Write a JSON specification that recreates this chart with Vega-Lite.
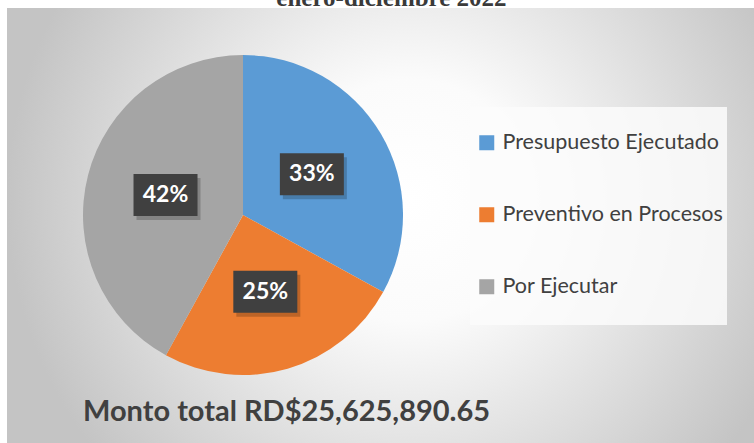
{
  "$schema": "https://vega.github.io/schema/vega-lite/v6.json",
  "width": 747,
  "height": 435,
  "autosize": "none",
  "padding": {"left": 7, "top": 8, "right": 0, "bottom": 0},
  "background": "white",
  "config": {"view": {"stroke": "#c4c4c4"}, "font": "Lato"},
  "data": {"values": [
    {"cat": "Presupuesto Ejecutado", "v": 33, "idx": 1},
    {"cat": "Preventivo en Procesos", "v": 25, "idx": 2},
    {"cat": "Por Ejecutar", "v": 42, "idx": 3}
  ]},
  "layer": [
    {
      "data": {"values": [{"bg": 1}]},
      "mark": {"type": "rect", "stroke": null, "fill": {"gradient": "radial", "x1": 0.54, "y1": 0.466, "r1": 0, "x2": 0.54, "y2": 0.466, "r2": 0.54, "stops": [{"offset": 0, "color": "#ffffff"}, {"offset": 0.3, "color": "#fbfbfb"}, {"offset": 1, "color": "#c4c4c4"}]}},
      "encoding": {}
    },
    {
      "mark": {"type": "arc", "outerRadius": 160},
      "encoding": {
        "theta": {"field": "v", "type": "quantitative", "stack": true},
        "order": {"field": "idx", "type": "quantitative"},
        "color": {"field": "cat", "type": "nominal",
          "scale": {"domain": ["Presupuesto Ejecutado", "Preventivo en Procesos", "Por Ejecutar"], "range": ["#5B9BD5", "#ED7D31", "#A5A5A5"]},
          "legend": {"title": " ", "titleFontSize": 14, "titlePadding": 7, "orient": "none", "legendX": 463, "legendY": 99, "symbolType": "square", "symbolSize": 225, "symbolStrokeWidth": 0, "labelFontSize": 21.5, "labelColor": "#404040", "labelFont": "Lato", "labelOffset": 5, "padding": 4, "symbolOffset": 2, "rowPadding": 26, "fillColor": "rgba(252,252,252,0.85)", "labelExpr": "[datum.label, ' ']", "labelLimit": 400}},
        "x": {"datum": 0, "type": "quantitative", "scale": {"domain": [-1, 1], "range": [76, 396], "nice": false, "zero": false}, "axis": null},
        "y": {"datum": 0, "type": "quantitative", "scale": {"domain": [-1, 1], "range": [367, 47], "nice": false, "zero": false}, "axis": null}
      }
    },
    {
      "transform": [
        {"joinaggregate": [{"op": "sum", "field": "v", "as": "total"}]},
        {"window": [{"op": "sum", "field": "v", "as": "cum"}], "sort": [{"field": "idx"}], "frame": [null, 0]},
        {"calculate": "(datum.cum - datum.v / 2) / datum.total * 2 * PI", "as": "mid"},
        {"calculate": "0.5 * sin(datum.mid)", "as": "lx"},
        {"calculate": "0.5 * cos(datum.mid)", "as": "ly"},
        {"calculate": "datum.v / datum.total", "as": "pct"}
      ],
      "layer": [
        {
          "mark": {"type": "point", "shape": "M-1,-0.656L1,-0.656L1,0.656L-1,0.656Z", "size": 4096, "filled": true, "color": "#000000", "opacity": 0.2, "xOffset": 3, "yOffset": 4},
          "encoding": {
            "x": {"field": "lx", "type": "quantitative"},
            "y": {"field": "ly", "type": "quantitative"}
          }
        },
        {
          "mark": {"type": "point", "shape": "M-1,-0.656L1,-0.656L1,0.656L-1,0.656Z", "size": 4096, "filled": true, "color": "#404040", "opacity": 1},
          "encoding": {
            "x": {"field": "lx", "type": "quantitative"},
            "y": {"field": "ly", "type": "quantitative"}
          }
        },
        {
          "mark": {"type": "text", "fontSize": 23, "fontWeight": "bold", "color": "#ffffff", "align": "center", "baseline": "middle", "font": "Lato"},
          "encoding": {
            "x": {"field": "lx", "type": "quantitative"},
            "y": {"field": "ly", "type": "quantitative"},
            "text": {"field": "pct", "type": "quantitative", "format": ".0%"}
          }
        }
      ]
    },
    {
      "data": {"values": [{"note": "Monto total RD$25,625,890.65"}]},
      "mark": {"type": "text", "align": "left", "baseline": "middle", "fontSize": 29, "fontWeight": "bold", "color": "#404040", "font": "Lato"},
      "encoding": {
        "text": {"field": "note", "type": "nominal"},
        "x": {"datum": -1, "type": "quantitative"},
        "y": {"datum": -1.23, "type": "quantitative"}
      }
    },
    {
      "data": {"values": [{"note": "enero-diciembre 2022"}]},
      "mark": {"type": "text", "align": "center", "baseline": "alphabetic", "fontSize": 25, "fontWeight": "bold", "color": "#3a3a3a", "font": "Liberation Serif", "clip": false},
      "encoding": {
        "text": {"field": "note", "type": "nominal"},
        "x": {"datum": 0.928, "type": "quantitative"},
        "y": {"datum": 1.306, "type": "quantitative"}
      }
    }
  ]
}
